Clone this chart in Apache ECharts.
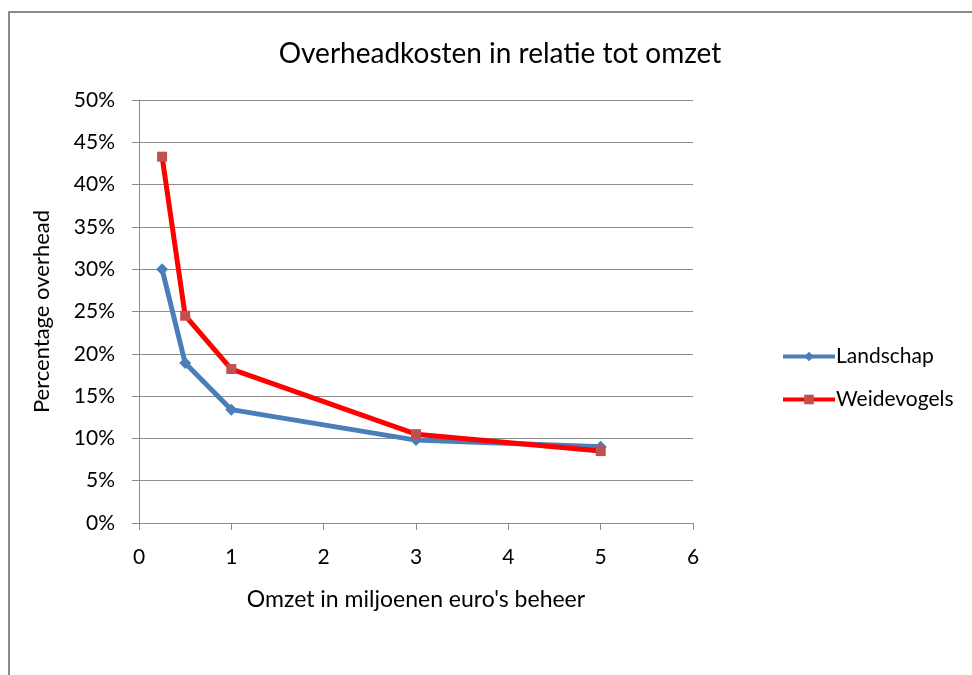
<!DOCTYPE html>
<html>
<head>
<meta charset="utf-8">
<script src="https://cdn.jsdelivr.net/npm/echarts@6/dist/echarts.min.js"></script>
<style>
  html, body { margin: 0; padding: 0; background: #fff; }
  #chart { width: 972px; height: 675px; }
</style>
</head>
<body>
<div id="chart"></div>
<script>
// data
const omzet = [0.25, 0.5, 1, 3, 5]
const landschap = [30.0, 18.9, 13.4, 9.8, 9.0]
const weidevogels = [43.3, 24.5, 18.2, 10.5, 8.5]

const font = 'Lato, "Open Sans", sans-serif'
const gridColor = '#8c8c8c'

const chart = echarts.init(document.getElementById('chart'))
chart.setOption({
  backgroundColor: '#fff',
  animation: false,
  graphic: [{
    type: 'rect',
    shape: { x: 9, y: 12, width: 1000, height: 700 },
    style: { fill: 'none', stroke: '#8a8a8a', lineWidth: 2 }
  }],
  title: {
    text: 'Overheadkosten in relatie tot omzet',
    left: 495, top: 35, textAlign: 'center',
    textStyle: { fontFamily: font, fontSize: 28, fontWeight: 'normal', color: '#000' }
  },
  legend: {
    orient: 'vertical',
    left: 776, top: 341,
    itemGap: 22,
    itemWidth: 52, itemHeight: 12,
    textStyle: { fontFamily: font, fontSize: 21, color: '#000', padding: [0, 0, 0, -4] },
    data: [
      { name: 'Landschap', lineStyle: { width: 4 } },
      { name: 'Weidevogels', lineStyle: { width: 4 } }
    ]
  },
  grid: { left: 139, right: 279, top: 100, bottom: 152 },
  xAxis: {
    type: 'value', min: 0, max: 6, interval: 1,
    name: "Omzet in miljoenen euro's beheer",
    nameLocation: 'middle', nameGap: 65,
    nameTextStyle: { fontFamily: font, fontSize: 23, color: '#000' },
    axisLine: { lineStyle: { color: gridColor } },
    axisTick: { show: true, length: 7, lineStyle: { color: gridColor } },
    axisLabel: { fontFamily: font, fontSize: 21, color: '#000', margin: 24 },
    splitLine: { show: false }
  },
  yAxis: {
    type: 'value', min: 0, max: 50, interval: 5,
    name: 'Percentage overhead',
    nameLocation: 'middle', nameGap: 86, nameRotate: 90,
    nameTextStyle: { fontFamily: font, fontSize: 22, color: '#000' },
    axisLine: { show: true, lineStyle: { color: gridColor } },
    axisTick: { show: true, length: 7, lineStyle: { color: gridColor } },
    axisLabel: { fontFamily: font, fontSize: 21, color: '#000', margin: 24, formatter: '{value}%' },
    splitLine: { lineStyle: { color: gridColor, width: 1 } }
  },
  series: [
    {
      name: 'Landschap', type: 'line',
      data: omzet.map((x, i) => [x, landschap[i]]),
      symbol: 'diamond', symbolSize: 12,
      lineStyle: { color: '#4a7ebb', width: 5 },
      itemStyle: { color: '#4a7ebb' }
    },
    {
      name: 'Weidevogels', type: 'line',
      data: omzet.map((x, i) => [x, weidevogels[i]]),
      symbol: 'rect', symbolSize: 10,
      lineStyle: { color: '#ff0000', width: 5 },
      itemStyle: { color: '#c0504d' }
    }
  ]
})
</script>
</body>
</html>
